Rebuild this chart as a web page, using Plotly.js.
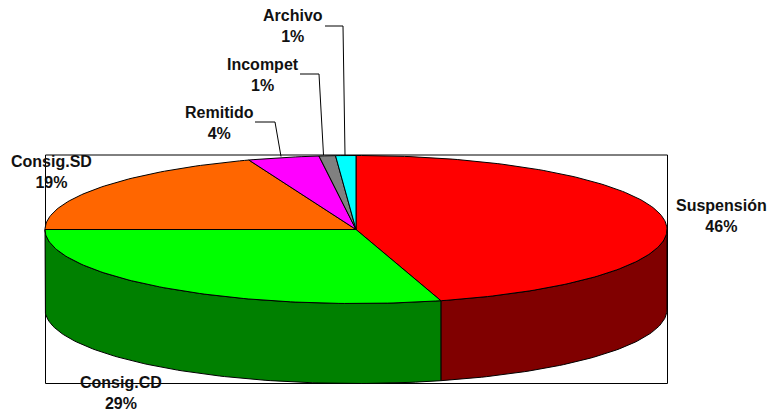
<!DOCTYPE html>
<html>
<head>
<meta charset="utf-8">
<script src="https://cdn.plot.ly/plotly-3.0.1.min.js"></script>
<style>html,body{margin:0;padding:0;background:#fff}#chart{width:768px;height:411px}</style>
</head>
<body>
<div id="chart"></div>
<script>
var categories = ['Suspensión', 'Consig.CD', 'Consig.SD', 'Remitido', 'Incompet', 'Archivo'];
var shares = [45.6, 29.4, 19.4, 3.7, 0.85, 1.05];
var percentLabels = ['46%', '29%', '19%', '4%', '1%', '1%'];
var topColors = ['#ff0000', '#00ff00', '#ff6600', '#ff00ff', '#808080', '#00ffff'];
var wallColors = ['#800000', '#008000', '#804000', '#800080', '#404040', '#008080'];

var W = 768, H = 411, CX = 356, CY = 229.5, RX = 311, RY = 74, DEPTH = 80;
var depthU = DEPTH / RY;
function rim(deg, drop) {
  var t = deg * Math.PI / 180;
  return [Math.sin(t), Math.cos(t) - (drop ? depthU : 0)];
}
var traces = [];
function poly(xs, ys, color) {
  traces.push({
    type: 'scatter', mode: 'lines', x: xs, y: ys, fill: 'toself', fillcolor: color,
    line: { color: '#000000', width: 1 }, hoverinfo: 'skip', showlegend: false
  });
}
var spans = [], acc = 0;
shares.forEach(function (s) { spans.push([acc * 3.6, (acc + s) * 3.6]); acc += s; });

// side walls: only the front half of the disc shows
spans.forEach(function (sp, i) {
  var a = Math.max(sp[0], 90), b = Math.min(sp[1], 270);
  if (b <= a) return;
  var xs = [], ys = [], d, p;
  for (d = a; d < b; d += 1) { p = rim(d, false); xs.push(p[0]); ys.push(p[1]); }
  p = rim(b, false); xs.push(p[0]); ys.push(p[1]);
  for (d = b; d > a; d -= 1) { p = rim(d, true); xs.push(p[0]); ys.push(p[1]); }
  p = rim(a, true); xs.push(p[0]); ys.push(p[1]);
  p = rim(a, false); xs.push(p[0]); ys.push(p[1]);
  poly(xs, ys, wallColors[i]);
});
// top face
spans.forEach(function (sp, i) {
  var xs = [0], ys = [0], d, p;
  for (d = sp[0]; d < sp[1]; d += 1) { p = rim(d, false); xs.push(p[0]); ys.push(p[1]); }
  p = rim(sp[1], false); xs.push(p[0]); ys.push(p[1]);
  xs.push(0); ys.push(0);
  poly(xs, ys, topColors[i]);
});

var labelSpots = [[721, 216], [121, 392.5], [51, 171.5], [219.5, 122.5], [263, 75], [292.5, 26.5]];
var annotations = categories.map(function (c, i) {
  return {
    xref: 'paper', yref: 'paper', x: labelSpots[i][0] / W, y: 1 - labelSpots[i][1] / H,
    text: c + '<br>' + percentLabels[i], showarrow: false, align: 'center',
    xanchor: 'center', yanchor: 'middle',
    font: { family: '"Liberation Sans", Arial, sans-serif', size: 16, color: '#111111', weight: 700 }
  };
});
var leaders = [
  [[255, 122], [275, 122], [281, 156.5]],
  [[300, 74], [319, 74], [323.5, 155]],
  [[325, 26], [343, 26], [345, 155]]
];
var shapes = [{
  type: 'rect', xref: 'x', yref: 'y', layer: 'below',
  x0: (45.5 - CX) / RX, x1: (667.5 - CX) / RX, y0: (CY - 155) / RY, y1: (CY - 383.5) / RY,
  line: { color: '#000000', width: 1 }, fillcolor: 'rgba(0,0,0,0)'
}].concat(leaders.map(function (pts) {
  return {
    type: 'path', xref: 'x', yref: 'y', layer: 'above',
    path: 'M' + pts.map(function (p) { return ((p[0] - CX) / RX) + ',' + ((CY - p[1]) / RY); }).join('L'),
    line: { color: '#000000', width: 1 }
  };
}));

Plotly.newPlot('chart', traces, {
  width: W, height: H,
  margin: { l: 0, r: 0, t: 0, b: 0 },
  paper_bgcolor: '#ffffff', plot_bgcolor: '#ffffff',
  xaxis: { visible: false, range: [(0 - CX) / RX, (W - CX) / RX], fixedrange: true },
  yaxis: { visible: false, range: [(CY - H) / RY, CY / RY], fixedrange: true },
  showlegend: false,
  shapes: shapes,
  annotations: annotations
}, { displayModeBar: false, staticPlot: true });
</script>
</body>
</html>
